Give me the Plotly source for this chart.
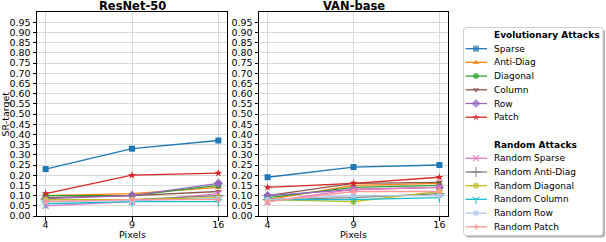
import plotly.graph_objects as go

# ---------------- data ----------------
pixels = ["4", "9", "16"]
y_ticks = [round(0.05 * i, 2) for i in range(20)]
y_tick_labels = [f"{v:.2f}" for v in y_ticks]

evo_names = ["Sparse", "Anti-Diag", "Diagonal", "Column", "Row", "Patch"]
rand_names = ["Random Sparse", "Random Anti-Diag", "Random Diagonal",
              "Random Column", "Random Row", "Random Patch"]

# ResNet-50
resnet_sparse = [0.23, 0.33, 0.37]
resnet_antidiag = [0.10, 0.11, 0.14]
resnet_diagonal = [0.10, 0.10, 0.15]
resnet_column = [0.09, 0.10, 0.12]
resnet_row = [0.085, 0.10, 0.16]
resnet_patch = [0.11, 0.20, 0.21]
resnet_rand_sparse = [0.05, 0.07, 0.11]
resnet_rand_antidiag = [0.08, 0.08, 0.10]
resnet_rand_diagonal = [0.08, 0.08, 0.09]
resnet_rand_column = [0.06, 0.07, 0.07]
resnet_rand_row = [0.07, 0.075, 0.085]
resnet_rand_patch = [0.07, 0.08, 0.08]

# VAN-base
van_sparse = [0.19, 0.24, 0.25]
van_antidiag = [0.08, 0.15, 0.16]
van_diagonal = [0.09, 0.14, 0.15]
van_column = [0.10, 0.16, 0.165]
van_row = [0.10, 0.13, 0.14]
van_patch = [0.14, 0.16, 0.19]
van_rand_sparse = [0.07, 0.13, 0.14]
van_rand_antidiag = [0.08, 0.09, 0.11]
van_rand_diagonal = [0.08, 0.07, 0.12]
van_rand_column = [0.08, 0.08, 0.09]
van_rand_row = [0.08, 0.10, 0.10]
van_rand_patch = [0.07, 0.12, 0.12]

resnet_series = [resnet_sparse, resnet_antidiag, resnet_diagonal, resnet_column,
                 resnet_row, resnet_patch, resnet_rand_sparse, resnet_rand_antidiag,
                 resnet_rand_diagonal, resnet_rand_column, resnet_rand_row,
                 resnet_rand_patch]
van_series = [van_sparse, van_antidiag, van_diagonal, van_column, van_row,
              van_patch, van_rand_sparse, van_rand_antidiag, van_rand_diagonal,
              van_rand_column, van_rand_row, van_rand_patch]

# ---------------- styles ----------------
colors = ["#1f77b4", "#ff7f0e", "#2ca02c", "#8c564b", "#9467bd", "#d62728",
          "#e377c2", "#7f7f7f", "#bcbd22", "#17becf", "#aec7e8", "#ff9896"]
symbols = ["square", "triangle-up", "circle", "triangle-down", "diamond", "star",
           "x-thin", "cross-thin", "circle", "y-down", "square", "triangle-left"]
sizes = [6, 6, 6, 6, 7, 6, 6, 7, 6, 6, 5, 6]
all_names = evo_names + rand_names

W, H = 606, 242
FONT = "DejaVu Sans"


def px_x(p):
    return p / W


def px_y(p):
    return 1 - p / H


def outline_width(i):
    return 1.3 if ("thin" in symbols[i] or symbols[i] == "y-down") else 0


fig = go.Figure()

for xa, ya, series in (("x", "y", resnet_series), ("x2", "y2", van_series)):
    for i, vals in enumerate(series):
        fig.add_trace(go.Scatter(
            x=pixels, y=vals, mode="lines+markers", name=all_names[i],
            line=dict(color=colors[i], width=1.3),
            marker=dict(symbol=symbols[i], size=sizes[i], color=colors[i],
                        line=dict(color=colors[i], width=outline_width(i))),
            xaxis=xa, yaxis=ya, showlegend=False,
        ))

# ---------------- manual legend (pixel overlay axis) ----------------
row0 = 35.0
row_step = 13.7
line_x0, line_x1, mark_x, text_x = 465.5, 487.0, 476.0, 491.5
legend_rows = [("title", "Evolutionary Attacks", None)]
legend_rows += [("item", evo_names[i], i) for i in range(6)]
legend_rows.append(("blank", "", None))
legend_rows.append(("title", "Random Attacks", None))
legend_rows += [("item", rand_names[i], 6 + i) for i in range(6)]

annotations = []
for r, (kind, text, idx) in enumerate(legend_rows):
    yy = row0 + r * row_step
    if kind == "blank":
        continue
    if kind == "title":
        annotations.append(dict(x=text_x, y=yy, xref="x3", yref="y3", text=f"<b>{text}</b>",
                                showarrow=False, xanchor="left", yanchor="middle",
                                font=dict(family=FONT, size=9, color="black")))
    else:
        fig.add_trace(go.Scatter(
            x=[line_x0, mark_x, line_x1], y=[yy, yy, yy], mode="lines+markers",
            line=dict(color=colors[idx], width=1.3),
            marker=dict(symbol=symbols[idx], color=colors[idx],
                        size=[0, sizes[idx], 0],
                        line=dict(color=colors[idx], width=outline_width(idx))),
            xaxis="x3", yaxis="y3", showlegend=False, hoverinfo="skip",
        ))
        annotations.append(dict(x=text_x, y=yy, xref="x3", yref="y3", text=text,
                                showarrow=False, xanchor="left", yanchor="middle",
                                font=dict(family=FONT, size=9, color="black")))


def rounded_rect(x0, y0, x1, y1, r):
    return (f"M {x0 + r},{y0} L {x1 - r},{y0} Q {x1},{y0} {x1},{y0 + r} "
            f"L {x1},{y1 - r} Q {x1},{y1} {x1 - r},{y1} L {x0 + r},{y1} "
            f"Q {x0},{y1} {x0},{y1 - r} L {x0},{y0 + r} Q {x0},{y0} {x0 + r},{y0} Z")


lx0, ly0, lx1, ly1 = 463.5, 27.5, 603.0, 235.5
shapes = [
    dict(type="path", path=rounded_rect(lx0 + 2, ly0 + 2, lx1 + 2, ly1 + 2, 3),
         xref="x3", yref="y3", fillcolor="rgba(0,0,0,0.3)", line=dict(width=0), layer="below"),
    dict(type="path", path=rounded_rect(lx0, ly0, lx1, ly1, 3),
         xref="x3", yref="y3", fillcolor="white", line=dict(color="#cccccc", width=1), layer="below"),
]

# titles, axis labels
annotations.append(dict(x=132, y=6, xref="x3", yref="y3", text="<b>ResNet-50</b>",
                        showarrow=False, xanchor="center", yanchor="middle",
                        font=dict(family=FONT, size=11.5, color="black")))
annotations.append(dict(x=353.5, y=6, xref="x3", yref="y3", text="<b>VAN-base</b>",
                        showarrow=False, xanchor="center", yanchor="middle",
                        font=dict(family=FONT, size=11.5, color="black")))
annotations.append(dict(x=4.5, y=114, xref="x3", yref="y3", text="SR-target", textangle=-90,
                        showarrow=False, xanchor="center", yanchor="middle",
                        font=dict(family=FONT, size=9.5, color="black")))
for cx in (132, 353.5):
    annotations.append(dict(x=cx, y=234.5, xref="x3", yref="y3", text="Pixels",
                            showarrow=False, xanchor="center", yanchor="middle",
                            font=dict(family=FONT, size=9.5, color="black")))

grid = "#d9d9d9"
common_x = dict(type="category", range=[-0.1, 2.1], showgrid=True, gridcolor=grid, gridwidth=1,
                showline=True, mirror=True, linecolor="black", linewidth=1,
                ticks="outside", ticklen=3.5, tickcolor="black", tickwidth=1,
                tickfont=dict(family=FONT, size=9.5, color="black"),
                ticklabelstandoff=-4,
                zeroline=False, fixedrange=True, automargin=False)
common_y = dict(range=[0, 1.0], tickvals=y_ticks, ticktext=y_tick_labels,
                showgrid=True, gridcolor=grid, gridwidth=1,
                showline=True, mirror=True, linecolor="black", linewidth=1,
                ticks="outside", ticklen=3.5, tickcolor="black", tickwidth=1,
                tickfont=dict(family=FONT, size=9.5, color="black"),
                zeroline=False, fixedrange=True, automargin=False)

y_dom = [px_y(216), px_y(12)]
fig.update_layout(
    width=W, height=H,
    margin=dict(l=0, r=0, t=0, b=0, autoexpand=False),
    paper_bgcolor="white", plot_bgcolor="rgba(0,0,0,0)",
    font=dict(family=FONT, size=9.5, color="black"),
    showlegend=False,
    xaxis=dict(common_x, domain=[px_x(37), px_x(227)], anchor="y"),
    yaxis=dict(common_y, domain=y_dom, anchor="x"),
    xaxis2=dict(common_x, domain=[px_x(259), px_x(448)], anchor="y2"),
    yaxis2=dict(common_y, domain=y_dom, anchor="x2"),
    xaxis3=dict(domain=[0, 1], range=[0, W], visible=False, anchor="y3",
                fixedrange=True, automargin=False),
    yaxis3=dict(domain=[0, 1], range=[H, 0], visible=False, anchor="x3",
                fixedrange=True, automargin=False),
    annotations=annotations,
    shapes=shapes,
)

fig.write_html(
    "out.html",
    config={"displayModeBar": False},
    post_script="document.body.style.margin='0';document.body.style.padding='0';"
                "document.body.style.overflow='hidden';",
)
